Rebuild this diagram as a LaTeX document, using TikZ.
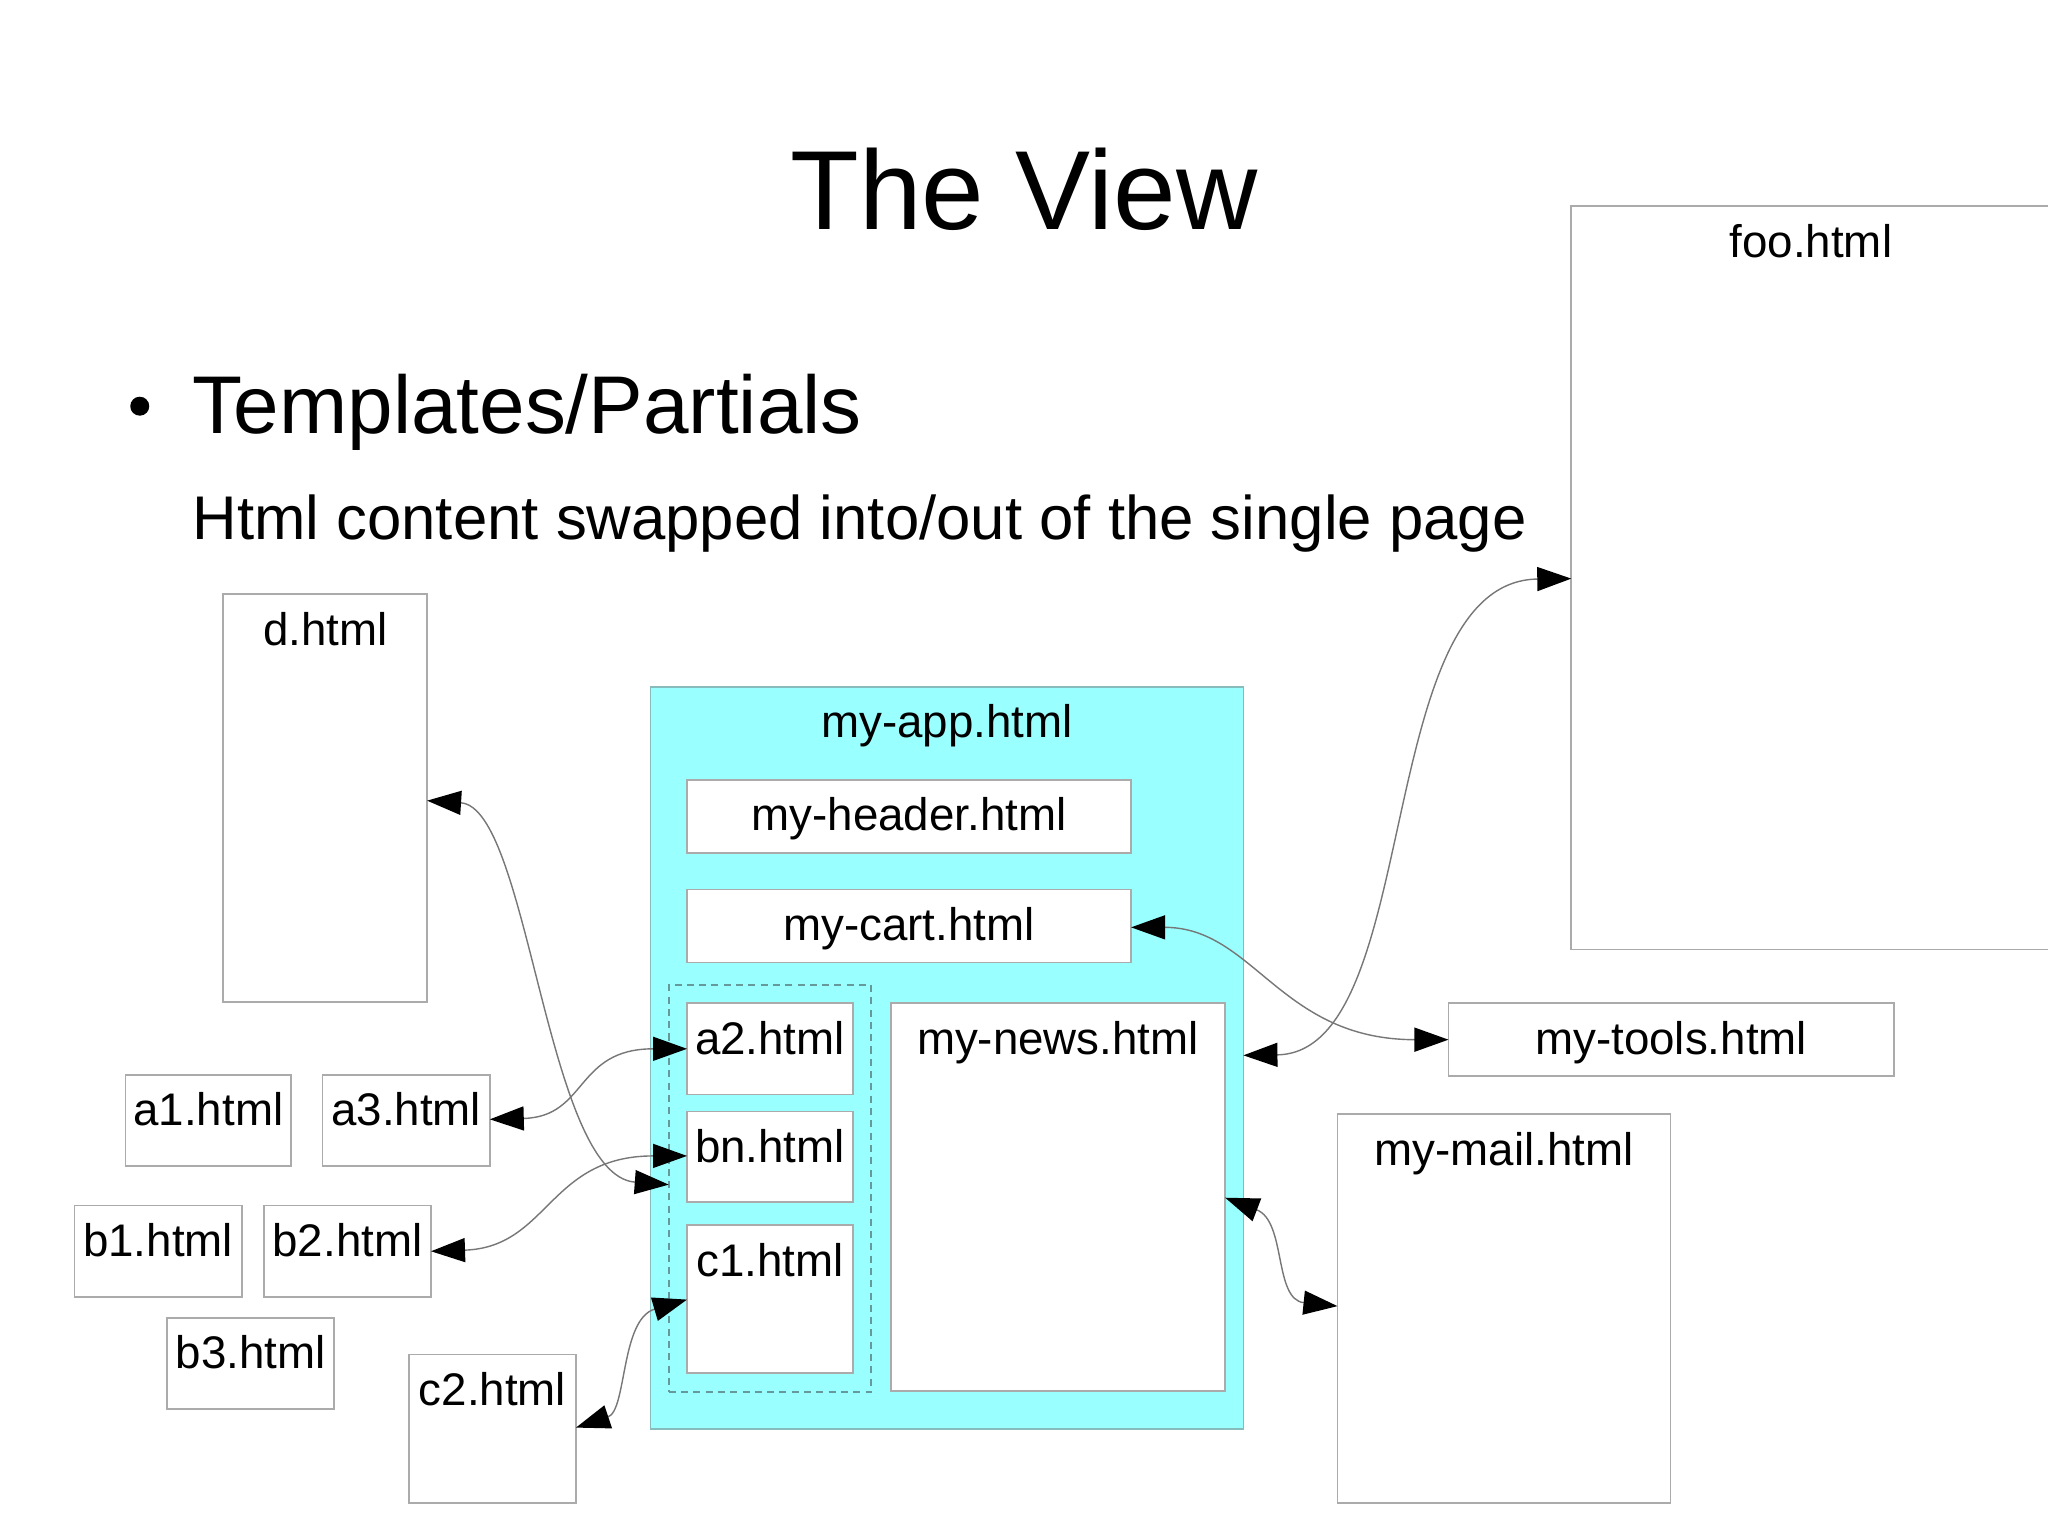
\documentclass[tikz,border=0pt]{standalone}
\usepackage{fontspec}
\setmainfont{Liberation Sans}
\usetikzlibrary{arrows.meta,fit,calc}
\definecolor{boxgray}{HTML}{ABABAB}
\definecolor{appcyan}{HTML}{99FFFF}
\definecolor{appedge}{HTML}{88BBBB}
\definecolor{linkgray}{HTML}{777777}
\definecolor{dashgray}{HTML}{669999}
\tikzset{bigtip/.tip={Triangle[length=0.34cm,width=0.24cm,color=black,fill=black]}}
\newcommand\pagebox[6][]{\path (#3,#4) coordinate (#2-nw) (#5,#6) coordinate (#2-se);
  \node[box,#1,fit=(#2-nw)(#2-se)] (#2) {};}
\newcommand\boxlabel[2]{\node[lbl] (#1-lbl) at ($(#1.north)+(0,39)$) {#2};}
\begin{document}
\begin{tikzpicture}[x=0.013061cm,y=-0.013061cm,
  box/.style={draw=boxgray,fill=white,line width=0.5pt,inner sep=0pt,outer sep=0pt},
  appbox/.style={fill=appcyan,draw=appedge},
  groupbox/.style={draw=dashgray,fill=none,dash pattern=on 2pt off 1.5pt},
  lbl/.style={font=\fontsize{13}{15}\selectfont,inner sep=0pt,anchor=base},
  link/.style={draw=linkgray,line width=0.4pt,bigtip-bigtip}]
\clip (0,0) rectangle (1568,1175);
\fill[white] (0,0) rectangle (1568,1175);
% headings
\node[font=\fontsize{32}{38}\selectfont,anchor=base,inner sep=0pt] (title) at (784,176) {The View};
\node[circle,fill=black,inner sep=0pt,minimum size=0.19cm] (bullet) at (107,311) {};
\node[font=\fontsize{23.3}{28}\selectfont,anchor=base west,inner sep=0pt] (topic) at (147,332) {Templates/Partials};
\node[font=\fontsize{17.55}{21}\selectfont,anchor=base west,inner sep=0pt] (sub) at (147,413) {Html content swapped into/out of the single page};
% boxes
\pagebox{foo}{1203}{158}{1570}{727}
\pagebox{d}{171}{455}{327}{767}
\pagebox[appbox]{app}{498}{526}{952}{1094}
\pagebox{header}{526}{597}{866}{653}
\pagebox{cart}{526}{681}{866}{737}
\pagebox[groupbox]{group}{512}{754}{667}{1066}
\pagebox{atwo}{526}{768}{653}{838}
\pagebox{bn}{526}{851}{653}{920}
\pagebox{cone}{526}{938}{653}{1051}
\pagebox{news}{682}{768}{938}{1065}
\pagebox{tools}{1109}{768}{1450}{824}
\pagebox{mail}{1024}{853}{1279}{1151}
\pagebox{aone}{96}{823}{223}{893}
\pagebox{athree}{247}{823}{375}{893}
\pagebox{bone}{57}{923}{185}{993}
\pagebox{btwo}{202}{923}{330}{993}
\pagebox{bthree}{128}{1009}{256}{1079}
\pagebox{ctwo}{313}{1037}{441}{1151}
% labels
\boxlabel{foo}{foo.html}
\boxlabel{d}{d.html}
\boxlabel{app}{my-app.html}
\boxlabel{header}{my-header.html}
\boxlabel{cart}{my-cart.html}
\boxlabel{atwo}{a2.html}
\boxlabel{bn}{bn.html}
\boxlabel{cone}{c1.html}
\boxlabel{news}{my-news.html}
\boxlabel{tools}{my-tools.html}
\boxlabel{mail}{my-mail.html}
\boxlabel{aone}{a1.html}
\boxlabel{athree}{a3.html}
\boxlabel{bone}{b1.html}
\boxlabel{btwo}{b2.html}
\boxlabel{bthree}{b3.html}
\boxlabel{ctwo}{c2.html}
% connectors
\draw[link] (d.east |- 0,613) .. controls (405,618) and (418,900) .. (group.west |- 0,907);
\draw[link] (athree.east |- 0,857) .. controls (450,855) and (440,803) .. (atwo.west |- 0,803);
\draw[link] (btwo.east |- 0,958) .. controls (420,955) and (420,885) .. (bn.west |- 0,885);
\draw[link] (ctwo.east |- 0,1093) .. controls (480,1080) and (475,1010) .. (cone.west |- 0,995);
\draw[link] (cart.east |- 0,710) .. controls (960,710) and (980,796) .. (tools.west |- 0,796);
\draw[link] (app.east |- 0,808) .. controls (1090,806) and (1050,445) .. (foo.west |- 0,443);
\draw[link] (news.east |- 0,917) .. controls (985,935) and (975,995) .. (mail.west |- 0,1000);
\end{tikzpicture}
\end{document}
